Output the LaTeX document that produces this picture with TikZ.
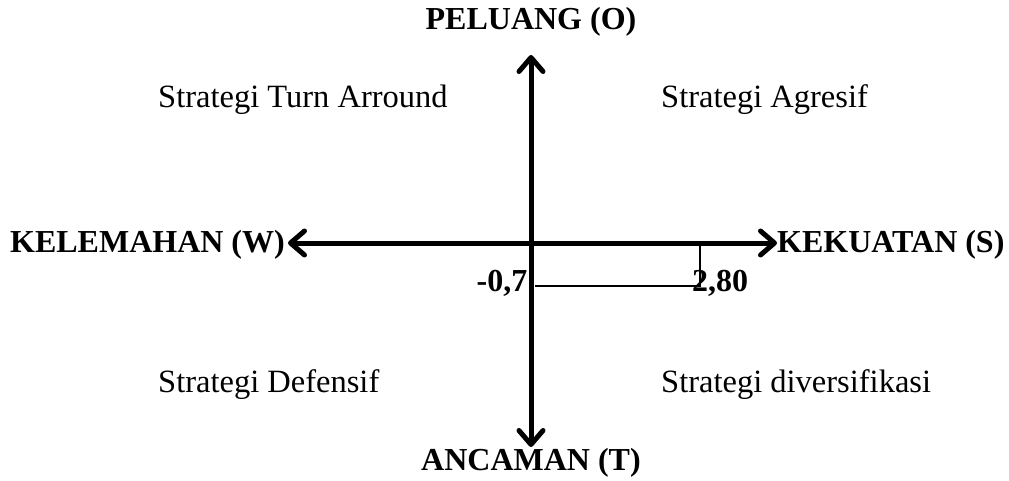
\documentclass[tikz,border=0pt]{standalone}
\usepackage{fontspec}
\setmainfont{Liberation Serif}
\usetikzlibrary{arrows.meta}
\begin{document}
\begin{tikzpicture}[x=1pt,y=-1pt,
  lbl/.style={inner sep=0pt,font=\fontsize{32.5}{38}\selectfont},
  blbl/.style={inner sep=0pt,font=\fontsize{32}{38}\selectfont\bfseries},
  tipstyle/.style={},
  axis/.style={line width=5pt,{Straight Barb[length=14pt,width=24pt,line cap=round,line join=round]}-{Straight Barb[length=14pt,width=24pt,line cap=round,line join=round]}},
  thin/.style={line width=1.5pt}]
\useasboundingbox (0,0) rectangle (1009,481);
\coordinate (top) at (531,55);
\coordinate (bot) at (531,447);
\coordinate (lft) at (288,243);
\coordinate (rgt) at (777,243);
\coordinate (o) at (531,243);
\coordinate (a) at (700,243);
\coordinate (b) at (700,286);
\coordinate (c) at (535,286);
\draw[axis] (top) -- (bot);
\draw[axis] (lft) -- (rgt);
\draw[thin] (a) -- (b) -- (c);
\node[blbl] (O) at (531,22) {PELUANG (O)};
\node[blbl] (T) at (531,463) {ANCAMAN (T)};
\node[blbl,anchor=east] (W) at (285,245) {KELEMAHAN (W)};
\node[blbl,anchor=west] (S) at (777,245) {KEKUATAN (S)};
\node[blbl] (n1) at (502,283) {-0,7};
\node[blbl] (n2) at (720,283) {2,80};
\node[lbl,anchor=west] (q1) at (158,100) {Strategi Turn Arround};
\node[lbl,anchor=west] (q2) at (661,100) {Strategi Agresif};
\node[lbl,anchor=west] (q3) at (158,385) {Strategi Defensif};
\node[lbl,anchor=west] (q4) at (661,385) {Strategi diversifikasi};
\end{tikzpicture}
\end{document}
